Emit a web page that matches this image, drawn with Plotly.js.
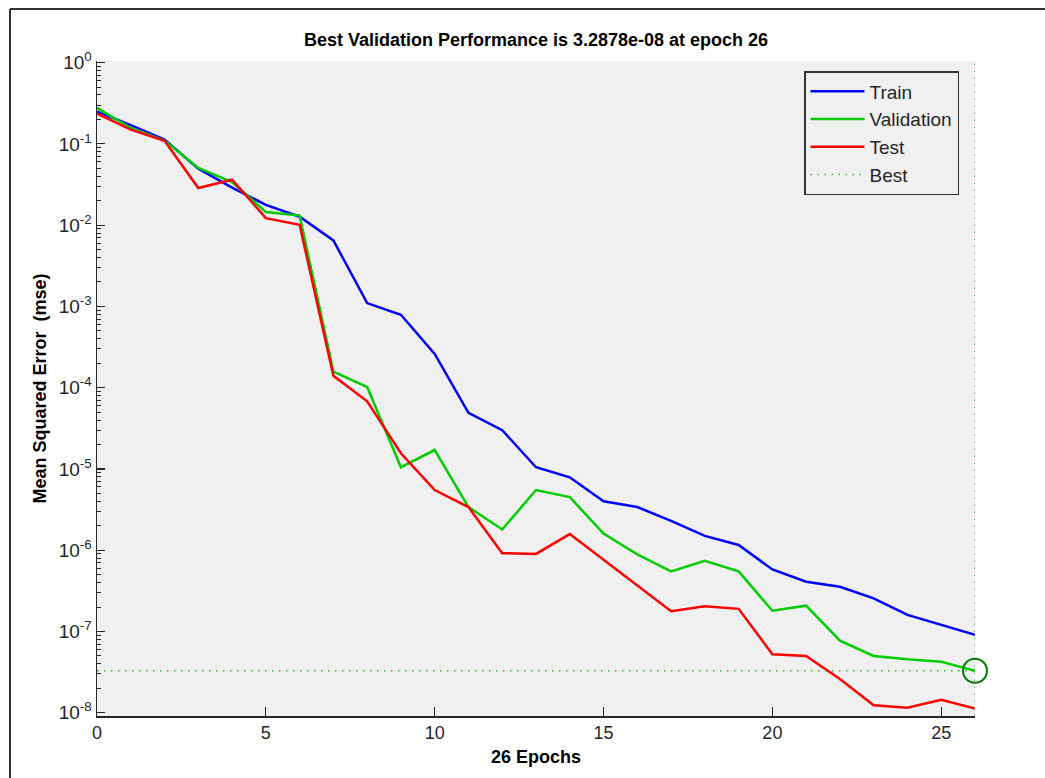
<!DOCTYPE html>
<html>
<head>
<meta charset="utf-8">
<script src="https://cdn.plot.ly/plotly-3.0.1.min.js"></script>
<style>
  html, body { margin: 0; padding: 0; background: #ffffff; overflow: hidden; }
  #chart { width: 1045px; height: 778px; }
</style>
</head>
<body>
<div id="chart"></div>
<script>
// Training record: mean squared error per epoch
const epochs = [0, 1, 2, 3, 4, 5, 6, 7, 8, 9, 10, 11, 12, 13, 14, 15, 16, 17, 18, 19, 20, 21, 22, 23, 24, 25, 26];

const trainPerf = [0.25, 0.17, 0.113, 0.0495, 0.029, 0.0178, 0.0127, 0.0065, 1.1e-3, 7.9e-4,
  2.6e-4, 4.9e-5, 3.0e-5, 1.05e-5, 7.9e-6, 4.0e-6, 3.4e-6, 2.3e-6, 1.5e-6, 1.16e-6,
  5.8e-7, 4.1e-7, 3.55e-7, 2.56e-7, 1.6e-7, 1.2e-7, 9.1e-8];

const valPerf = [0.277, 0.157, 0.11, 0.0505, 0.034, 0.0145, 0.0131, 1.58e-4, 1.02e-4, 1.05e-5,
  1.71e-5, 3.4e-6, 1.8e-6, 5.5e-6, 4.5e-6, 1.6e-6, 8.9e-7, 5.5e-7, 7.4e-7, 5.5e-7,
  1.8e-7, 2.08e-7, 7.7e-8, 5.0e-8, 4.55e-8, 4.25e-8, 3.2878e-8];

const testPerf = [0.235, 0.15, 0.109, 0.0286, 0.0362, 0.0122, 0.0101, 1.4e-4, 6.8e-5, 1.56e-5,
  5.5e-6, 3.4e-6, 9.2e-7, 9.0e-7, 1.58e-6, 7.6e-7, 3.7e-7, 1.78e-7, 2.05e-7, 1.9e-7,
  5.25e-8, 5.0e-8, 2.6e-8, 1.24e-8, 1.15e-8, 1.44e-8, 1.13e-8];

const bestEpoch = 26;
const bestPerf = 3.2878e-8;

const xTickVals = [0, 5, 10, 15, 20, 25];
const yTickExps = [-8, -7, -6, -5, -4, -3, -2, -1, 0];

// log10 limits of the y axis
const yRange = [-8.04, 0.02];

const font = 'Liberation Sans, Arial, Helvetica, sans-serif';
const ink = '#262626';

const yTickVals = yTickExps.map(e => Math.pow(10, e));
const yTickText = yTickExps.map(e => '10<sup>' + e + '</sup>');
const yMinorVals = [];
yTickExps.slice(0, -1).forEach(e => {
  for (let m = 2; m <= 9; m++) yMinorVals.push(m * Math.pow(10, e));
});

const traces = [
  { x: epochs, y: trainPerf, name: 'Train', mode: 'lines', type: 'scatter',
    line: { color: '#0000ff', width: 2.5 } },
  { x: epochs, y: valPerf, name: 'Validation', mode: 'lines', type: 'scatter',
    line: { color: '#00cc00', width: 2.5 } },
  { x: epochs, y: testPerf, name: 'Test', mode: 'lines', type: 'scatter',
    line: { color: '#ff0000', width: 2.5 } },
  { x: [epochs[0], bestEpoch, null, bestEpoch, bestEpoch],
    y: [bestPerf, bestPerf, null, Math.pow(10, yRange[0]), Math.pow(10, yRange[1])],
    name: 'Best', mode: 'lines', type: 'scatter', cliponaxis: false,
    line: { color: '#2db52d', width: 1.5, dash: '1.5px,5.5px' } },
  { x: [bestEpoch], y: [bestPerf], mode: 'markers', type: 'scatter',
    showlegend: false, cliponaxis: false,
    marker: { symbol: 'circle-open', size: 24, color: '#007a00', line: { width: 2, color: '#007a00' } } }
];

// frame around the figure (left and top edges)
const px = x => (x - 97) / 878;
const py = y => (716 - y) / 655;

const layout = {
  width: 1045, height: 778, autosize: false,
  margin: { l: 97, r: 70, t: 61, b: 62 },
  paper_bgcolor: '#ffffff',
  plot_bgcolor: '#f0f0f0',
  font: { family: font, color: ink, size: 18 },
  showlegend: true,
  title: {
    text: '<b>Best Validation Performance is 3.2878e-08 at epoch 26</b>',
    font: { family: font, size: 18, color: '#000000' },
    x: 0.5, xref: 'paper', xanchor: 'center',
    y: 1 - 40 / 778, yref: 'container', yanchor: 'middle'
  },
  xaxis: {
    type: 'linear', range: [0, 26],
    tickmode: 'array', tickvals: xTickVals,
    ticks: 'inside', ticklen: 9, tickwidth: 1.2, tickcolor: ink,
    showline: true, linecolor: ink, linewidth: 1.5, mirror: false,
    showgrid: false, zeroline: false,
    tickfont: { family: font, size: 18, color: ink },
    title: { text: '<b>26 Epochs</b>', font: { family: font, size: 18, color: '#000000' }, standoff: 8 }
  },
  yaxis: {
    type: 'log', range: yRange,
    tickmode: 'array', tickvals: yTickVals, ticktext: yTickText,
    ticks: 'inside', ticklen: 8, tickwidth: 1.2, tickcolor: ink,
    minor: { tickmode: 'array', tickvals: yMinorVals, ticks: 'inside', ticklen: 4, tickwidth: 1, tickcolor: ink, showgrid: false },
    showline: true, linecolor: ink, linewidth: 1.5, mirror: false,
    showgrid: false, zeroline: false,
    tickfont: { family: font, size: 19, color: ink },
    title: { text: '<b>Mean Squared Error  (mse)</b>', font: { family: font, size: 18, color: '#000000' }, standoff: 7 }
  },
  legend: {
    x: px(804), y: py(71), xanchor: 'left', yanchor: 'top',
    xref: 'paper', yref: 'paper',
    bgcolor: '#f0f0f0', bordercolor: '#333333', borderwidth: 1.5,
    font: { family: font, size: 19, color: ink },
    itemwidth: 54, tracegroupgap: 0
  },
  shapes: [
    { type: 'line', xref: 'paper', yref: 'paper', x0: px(10), x1: px(10), y0: py(9), y1: py(790),
      line: { color: '#333333', width: 2 } },
    { type: 'line', xref: 'paper', yref: 'paper', x0: px(10), x1: px(1050), y0: py(9), y1: py(9),
      line: { color: '#333333', width: 2 } }
  ]
};

Plotly.newPlot('chart', traces, layout, { staticPlot: true, displayModeBar: false });
</script>
</body>
</html>
